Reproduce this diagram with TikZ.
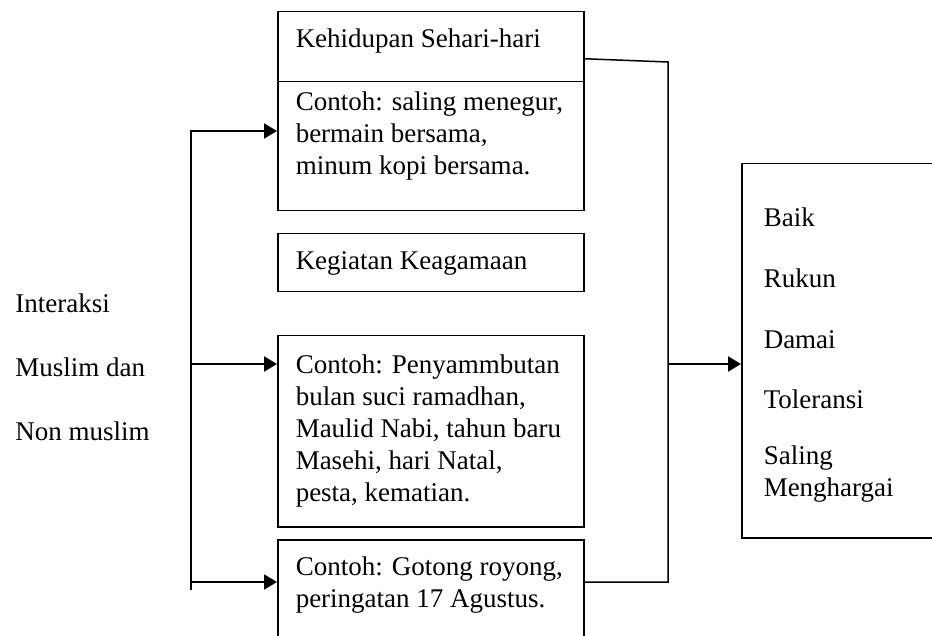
\documentclass[tikz,border=0pt]{standalone}
\usepackage{fontspec}
\setmainfont{Liberation Serif}
\usetikzlibrary{arrows.meta,calc}

\tikzset{
	kotak/.style={draw, line width=0.75pt, anchor=north west, inner xsep=9pt, inner ysep=0pt, minimum width=153pt, text width=135pt, align=flush left, text height=18pt, font=\fontsize{13.5}{16}\selectfont},
	panah/.style={line width=1pt, -{Triangle[length=6.5pt,width=7.5pt]}}
}

\begin{document}
\begin{tikzpicture}[x=0.5pt, y=-0.5pt]
			%%%%% START %%%%%
			
			\useasboundingbox (0,0) rectangle (932,636);
			\clip (0,0) rectangle (932,636);
			
			\node[font=\fontsize{13.5}{16}\selectfont, text width=75pt, align=flush left, inner sep=0pt, anchor=base west] (interaksi) at (15,313) {Interaksi\\[16pt] Muslim dan\\[16pt] Non muslim};
			
			\node[kotak, text depth=17pt] (sehari) at (277,11) {Kehidupan Sehari-hari};
			\node[kotak, text height=14.5pt, text depth=50pt] (contohsehari) at (277,81) {Contoh: saling menegur,\\ bermain bersama,\\ minum kopi bersama.};
			
			\node[kotak, text depth=11pt] (agama) at (277,233) {Kegiatan Keagamaan};
			\node[kotak, text height=19pt, text depth=76.5pt] (contohagama) at (277,335) {Contoh: Penyammbutan\\ bulan suci ramadhan,\\ Maulid Nabi, tahun baru\\ Masehi, hari Natal,\\ pesta, kematian.};
			
			\node[kotak, text depth=52.5pt] (gotong) at (277,539) {Contoh: Gotong royong,\\ peringatan 17 Agustus.};
			
			\node[kotak, minimum width=110pt, text width=88pt, inner xsep=11pt, text height=31.5pt, text depth=155.5pt] (hasil) at (741,163) {Baik\\[14.5pt] Rukun\\[14.5pt] Damai\\[14pt] Toleransi\\[12pt] Saling\\ Menghargai};
			
			% kiri
			\coordinate (atas) at (191,131);
			\coordinate (tengah) at (191,364);
			\coordinate (bawah) at (191,582);
			\coordinate (ujung) at (191,590);
			\draw[panah] (ujung) -- (atas) -- (atas -| contohsehari.west);
			\draw[panah] (tengah) -- (tengah -| contohagama.west);
			\draw[panah] (bawah) -- (bawah -| gotong.west);
			
			% kanan
			\coordinate (kanan) at (668,62);
			\coordinate (kanantengah) at (668,364);
			\coordinate (kananbawah) at (668,582);
			\draw[line width=0.75pt] ([yshift=-6pt]sehari.east) -- (kanan) -- (kananbawah) -- (kananbawah -| gotong.east);
			\draw[panah] (kanantengah) -- (kanantengah -| hasil.west);
			
			%%%%% END %%%%%
		\end{tikzpicture}
\end{document}
